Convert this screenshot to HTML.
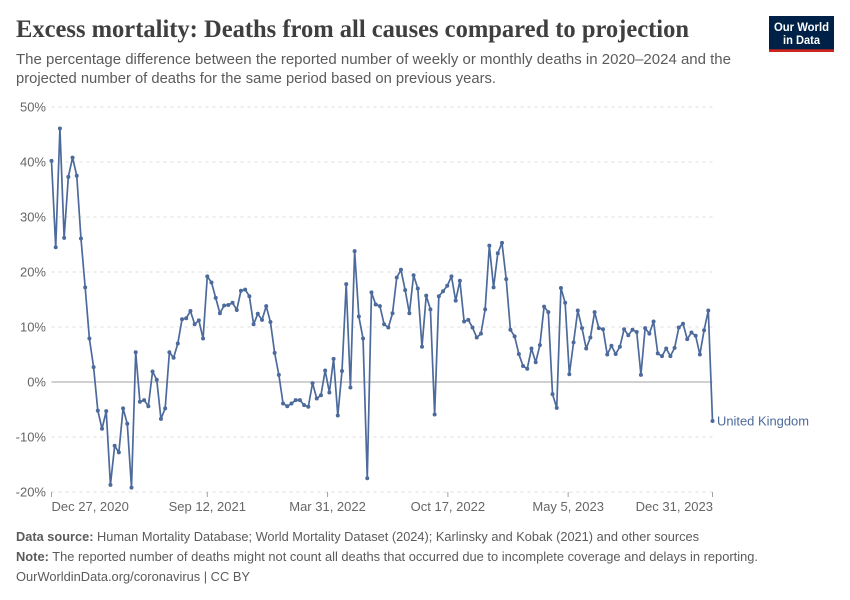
<!DOCTYPE html>
<html lang="en">
<head>
<meta charset="utf-8">
<title>Excess mortality: Deaths from all causes compared to projection</title>
<style>
html,body{margin:0;padding:0;background:#fff;width:850px;height:600px;overflow:hidden}
svg{display:block;font-family:"Liberation Sans",sans-serif}
</style>
</head>
<body>
<svg id="chart" xmlns="http://www.w3.org/2000/svg" width="850" height="600" viewBox="0 0 850 600">
  <rect x="0" y="0" width="850" height="600" fill="#ffffff"/>
  <text x="16" y="37" font-family="'Liberation Serif',serif" font-weight="700" font-size="25" fill="#3f3f3f" textLength="673" lengthAdjust="spacingAndGlyphs">Excess mortality: Deaths from all causes compared to projection</text>
  <text x="16" y="64" font-size="14.5" fill="#5b5b5b" textLength="715" lengthAdjust="spacingAndGlyphs">The percentage difference between the reported number of weekly or monthly deaths in 2020–2024 and the</text>
  <text x="16" y="83" font-size="14.5" fill="#5b5b5b" textLength="480" lengthAdjust="spacingAndGlyphs">projected number of deaths for the same period based on previous years.</text>

  <g>
    <rect x="769" y="16" width="65" height="36" fill="#002147"/>
    <rect x="769" y="49.3" width="65" height="2.7" fill="#ce261e"/>
    <text x="801.5" y="31" text-anchor="middle" font-size="12" font-weight="700" fill="#ffffff" textLength="55" lengthAdjust="spacingAndGlyphs">Our World</text>
    <text x="801.5" y="44" text-anchor="middle" font-size="12" font-weight="700" fill="#ffffff" textLength="37" lengthAdjust="spacingAndGlyphs">in Data</text>
  </g>

  <g id="grid"></g>
  <g id="yLabels"></g>
  <g id="xAxis"></g>
  <g id="series"></g>

  <text x="16" y="541" font-size="13" fill="#5b5b5b" textLength="683" lengthAdjust="spacingAndGlyphs"><tspan font-weight="700">Data source:</tspan> Human Mortality Database; World Mortality Dataset (2024); Karlinsky and Kobak (2021) and other sources</text>
  <text x="16" y="561" font-size="13" fill="#5b5b5b" textLength="742" lengthAdjust="spacingAndGlyphs"><tspan font-weight="700">Note:</tspan> The reported number of deaths might not count all deaths that occurred due to incomplete coverage and delays in reporting.</text>
  <text x="16" y="581" font-size="13" fill="#5b5b5b" textLength="234" lengthAdjust="spacingAndGlyphs">OurWorldinData.org/coronavirus | CC BY</text>
</svg>
<script>
const seriesName = "United Kingdom";
const firstDate = "2020-12-27";
const values = [
40.2,24.5,46.1,26.2,37.3,40.8,37.5,26.1,17.2,7.9,
2.7,-5.2,-8.5,-5.3,-18.7,-11.6,-12.8,-4.8,-7.6,-19.2,
5.4,-3.6,-3.3,-4.4,1.9,0.4,-6.7,-4.8,5.4,4.4,
7.0,11.4,11.6,12.9,10.5,11.2,7.9,19.2,18.1,15.3,
12.5,13.9,14.0,14.4,13.1,16.6,16.8,15.6,10.5,12.4,
11.3,13.8,10.9,5.3,1.3,-3.9,-4.4,-3.9,-3.3,-3.3,
-4.2,-4.5,-0.2,-3.0,-2.4,2.1,-1.9,4.2,-6.1,2.0,
17.8,-1.0,23.8,11.9,7.9,-17.5,16.3,14.1,13.8,10.5,
9.9,12.5,19.0,20.4,16.7,12.5,19.4,17.0,6.4,15.7,
13.2,-5.9,15.6,16.5,17.5,19.2,14.8,18.4,11.0,11.3,
9.9,8.1,8.8,13.2,24.8,17.2,23.4,25.3,18.7,9.5,
8.3,5.1,2.9,2.4,6.1,3.6,6.7,13.7,12.7,-2.2,
-4.7,17.1,14.4,1.4,7.2,13.0,9.8,6.1,8.1,12.7,
9.8,9.6,5.0,6.6,5.1,6.4,9.6,8.5,9.5,9.1,
1.3,9.8,8.8,11.0,5.2,4.7,6.1,4.7,6.2,9.9,
10.6,7.8,9.0,8.4,5.0,9.4,13.0,-7.1
];
const yTicks = [-20,-10,0,10,20,30,40,50];
const xTickDates = ["2020-12-27","2021-09-12","2022-03-31","2022-10-17","2023-05-05","2023-12-31"];
const xTickLabels = ["Dec 27, 2020","Sep 12, 2021","Mar 31, 2022","Oct 17, 2022","May 5, 2023","Dec 31, 2023"];

const NS = "http://www.w3.org/2000/svg";
const plotLeft = 51.5, plotRight = 712.5, plotTop = 107, plotBottom = 492;
const yMin = -20, yMax = 50;
const dayMs = 86400000;
const t0 = Date.parse(firstDate);
const dayDomain = (Date.parse(xTickDates[xTickDates.length - 1]) - t0) / dayMs;
const xDay = d => plotLeft + (d / dayDomain) * (plotRight - plotLeft);
const yVal = v => plotBottom - ((v - yMin) / (yMax - yMin)) * (plotBottom - plotTop);
function make(tag, attrs, parent) {
  const el = document.createElementNS(NS, tag);
  for (const k in attrs) el.setAttribute(k, attrs[k]);
  parent.appendChild(el);
  return el;
}

const grid = document.getElementById("grid");
const yLabels = document.getElementById("yLabels");
yTicks.forEach(t => {
  const line = make("line", {x1: plotLeft, x2: plotRight, y1: yVal(t), y2: yVal(t),
    stroke: t === 0 ? "#a1a1a1" : "#dddddd", "stroke-width": 1,
    "stroke-dasharray": t === 0 ? "none" : "3,4"}, grid);
  
  
  const label = make("text", {x: 46, y: yVal(t) + 4.7, "text-anchor": "end", "font-size": 13, fill: "#666666"}, yLabels);
  label.textContent = t + "%";
  
  
});

const xAxis = document.getElementById("xAxis");
xTickDates.forEach((d, i) => {
  const day = (Date.parse(d) - t0) / dayMs;
  const x = xDay(day);
  const tick = make("line", {x1: x, x2: x, y1: plotBottom, y2: plotBottom + 5, stroke: "#a1a1a1", "stroke-width": 1}, xAxis);
  
  
  const first = i === 0, last = i === xTickDates.length - 1;
  const label = make("text", {x: first ? plotLeft : last ? plotRight + 0.5 : x, y: 511,
    "text-anchor": first ? "start" : last ? "end" : "middle", "font-size": 13, fill: "#666666"}, xAxis);
  label.textContent = xTickLabels[i];
  
  
});

const series = document.getElementById("series");
const px = i => xDay(i * 7);
const path = make("path", {
  d: values.map((v, i) => (i ? "L" : "M") + px(i).toFixed(2) + " " + yVal(v).toFixed(2)).join(""),
  fill: "none", stroke: "#4c6a9c", "stroke-width": 1.7, "stroke-linejoin": "round"}, series);


values.forEach((v, i) => {
  const c = make("circle", {cx: px(i), cy: yVal(v), r: 2, fill: "#4c6a9c"}, series);
  
  
});
const endLabel = make("text", {x: 717, y: yVal(values[values.length - 1]) + 4.5, "font-size": 13, fill: "#4c6a9c",
  textLength: 92, lengthAdjust: "spacingAndGlyphs"}, series);
endLabel.textContent = seriesName;


</script>
</body>
</html>
